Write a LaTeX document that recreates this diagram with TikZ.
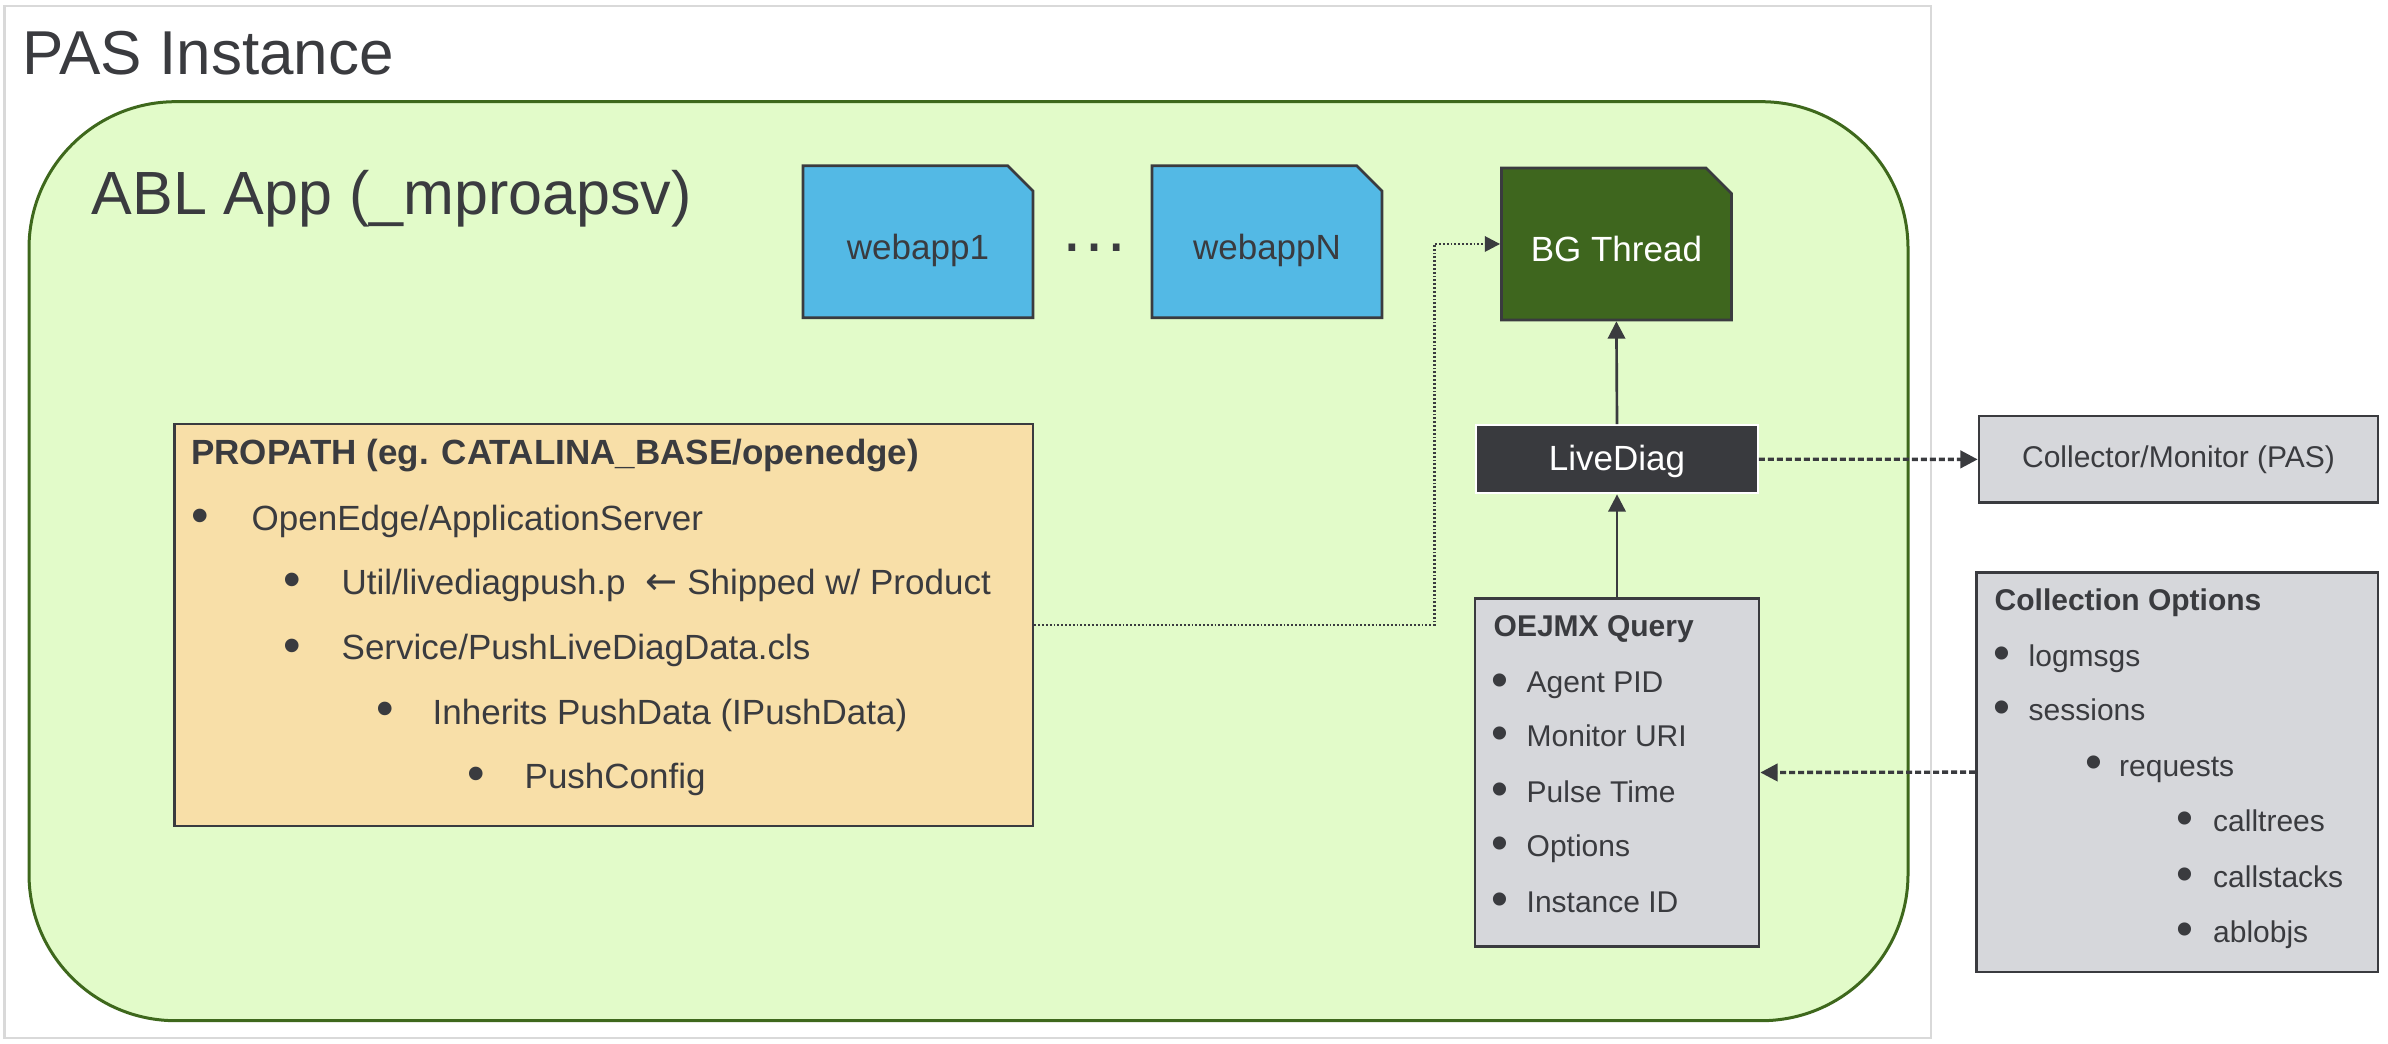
\documentclass[tikz,border=0pt]{standalone}
\usepackage{fontspec}
\setmainfont{Liberation Sans}
\newfontfamily\arrowfont{DejaVu Sans}
\usetikzlibrary{arrows.meta,shapes.misc}
\definecolor{inkgray}{RGB}{58,59,63}
\definecolor{pasline}{RGB}{217,217,217}
\definecolor{applime}{RGB}{226,251,201}
\definecolor{appline}{RGB}{62,104,28}
\definecolor{webblue}{RGB}{83,185,229}
\definecolor{bggreen}{RGB}{62,102,30}
\definecolor{diagdark}{RGB}{57,58,62}
\definecolor{querygray}{RGB}{214,215,219}
\definecolor{pathwheat}{RGB}{248,223,168}
\tikzset{
	txtbig/.style={inner sep=0pt, anchor=base west, text=inkgray, font=\fontsize{18.6}{22}\selectfont},
	txtmid/.style={inner sep=0pt, anchor=base west, text=inkgray, font=\fontsize{10.5}{13}\selectfont},
	txtsml/.style={inner sep=0pt, anchor=base west, text=inkgray, font=\fontsize{9}{11}\selectfont},
	headmid/.style={txtmid, font=\fontsize{10.5}{13}\selectfont\bfseries},
	headsml/.style={txtsml, font=\fontsize{9}{11}\selectfont\bfseries},
	bulmid/.style={txtmid, anchor=base, font=\fontsize{15}{17}\selectfont},
	bulsml/.style={txtsml, anchor=base, font=\fontsize{14.5}{17}\selectfont},
	docbox/.style={chamfered rectangle, chamfered rectangle corners=north east, chamfered rectangle xsep=3.8pt, chamfered rectangle ysep=3.8pt, draw=inkgray, line width=0.8pt, minimum width=69pt, minimum height=45.6pt, inner sep=0pt, text height=10.8pt, text depth=0pt, font=\fontsize{10.5}{13}\selectfont},
	listbox/.style={rectangle, draw=inkgray, line width=0.8pt, inner sep=0pt, fill=querygray},
	flowline/.style={draw=inkgray, line width=0.8pt, -{Triangle[length=5.2pt,width=5.2pt]}},
	dashline/.style={flowline, line width=1pt, dash pattern=on 1.8pt off 0.9pt},
	dotline/.style={draw=inkgray, line width=0.75pt, dash pattern=on 0.55pt off 0.6pt, -{Triangle[length=4.6pt,width=4.6pt]}}
}

\begin{document}
\begin{tikzpicture}[x=0.3pt,y=-0.3pt]
			%%%%% START %%%%%
			\useasboundingbox (0,0) rectangle (2388,1044);
			
			\draw[pasline, line width=0.8pt] (4.6,6) rectangle (1931,1038);
			\draw[draw=appline, fill=applime, line width=0.9pt, rounded corners=44pt] (29,101.7) rectangle (1908,1020.7);
			
			\node[txtbig] (pastitle) at (22,75) {PAS Instance};
			\node[txtbig, font=\fontsize{18.3}{22}\selectfont] (apptitle) at (91,215) {ABL App (\_mproapsv)};
			
			\node[docbox, fill=webblue, text=inkgray] (webone) at (918,241.7) {webapp1};
			\node[txtbig, anchor=base, font=\fontsize{21}{25}\selectfont] (dots) at (1094,252) {…};
			\node[docbox, fill=webblue, text=inkgray] (webn) at (1267,241.7) {webappN};
			\node[docbox, fill=bggreen, text=white] (bgthread) at (1616.4,244) {BG Thread};
			
			\node[rectangle, draw=white, line width=0.6pt, fill=diagdark, text=white, minimum width=84.5pt, minimum height=20.5pt, inner sep=0pt, text height=7.5pt, text depth=0.9pt, font=\fontsize{10.5}{13}\selectfont] (livediag) at (1617,459.2) {LiveDiag};
			\node[listbox, minimum width=119.7pt, minimum height=26pt, text height=6.3pt, text depth=1.2pt, text=inkgray, font=\fontsize{9}{11}\selectfont] (collector) at (2178.5,459.4) {Collector/Monitor (PAS)};
			
			% propath box
			\node[listbox, fill=pathwheat, minimum width=257.55pt, minimum height=120.6pt] (propath) at (603.75,625) {};
			\node[headmid] (pphead) at (190.5,465) {PROPATH (eg. CATALINA\_BASE/openedge)};
			\node[bulmid] (ppbulA) at (200.5,533) {•};
			\node[txtmid] (ppA) at (251,531) {OpenEdge/ApplicationServer};
			\node[bulmid] (ppbulB) at (292,597) {•};
			\node[txtmid] (ppB) at (341,595) {Util/livediagpush.p\hspace{3pt}\ {\arrowfont\fontsize{11.5}{13}\selectfont ←}\ Shipped w/ Product};
			\node[bulmid] (ppbulC) at (292,662) {•};
			\node[txtmid] (ppC) at (341,660) {Service/PushLiveDiagData.cls};
			\node[bulmid] (ppbulD) at (385,726) {•};
			\node[txtmid] (ppD) at (432,724) {Inherits PushData (IPushData)};
			\node[bulmid] (ppbulE) at (476,790) {•};
			\node[txtmid] (ppE) at (524,788) {PushConfig};
			
			% oejmx box
			\node[listbox, minimum width=85.2pt, minimum height=104.5pt] (oejmx) at (1617,772.5) {};
			\node[headsml] (oqhead) at (1493,637) {OEJMX Query};
			\node[bulsml] (oqbulA) at (1500,696) {•};
			\node[txtsml] (oqA) at (1526,693) {Agent PID};
			\node[bulsml] (oqbulB) at (1500,749.7) {•};
			\node[txtsml] (oqB) at (1526,746.7) {Monitor URI};
			\node[bulsml] (oqbulC) at (1500,805) {•};
			\node[txtsml] (oqC) at (1526,802) {Pulse Time};
			\node[bulsml] (oqbulD) at (1500,859) {•};
			\node[txtsml] (oqD) at (1526,856) {Options};
			\node[bulsml] (oqbulE) at (1500,915) {•};
			\node[txtsml] (oqE) at (1526,912) {Instance ID};
			
			% collection options box
			\node[listbox, minimum width=120.45pt, minimum height=119.9pt] (copts) at (2177.25,772.1) {};
			\node[headsml] (cohead) at (1994,611) {Collection Options};
			\node[bulsml] (cobulA) at (2001.5,669.5) {•};
			\node[txtsml] (coA) at (2028,666.5) {logmsgs};
			\node[bulsml] (cobulB) at (2001.5,723) {•};
			\node[txtsml] (coB) at (2028,720) {sessions};
			\node[bulsml] (cobulC) at (2094,779) {•};
			\node[txtsml] (coC) at (2118.5,776) {requests};
			\node[bulsml] (cobulD) at (2185,834) {•};
			\node[txtsml] (coD) at (2212.5,831) {calltrees};
			\node[bulsml] (cobulE) at (2185,890) {•};
			\node[txtsml] (coE) at (2212.5,887) {callstacks};
			\node[bulsml] (cobulF) at (2185,945) {•};
			\node[txtsml] (coF) at (2212.5,942) {ablobjs};
			
			% connectors
			\draw[flowline] (livediag.north) -- (bgthread.south);
			\draw[flowline] (oejmx.north) -- (livediag.south);
			\draw[dashline] (livediag.east) -- (collector.west);
			\draw[dashline] (copts.west) -- (oejmx.east);
			\coordinate (dotbend) at (1434.3,244);
			\draw[dotline] (propath.east) -| (dotbend) -- (bgthread.west);
			
			%%%%% END %%%%%
\end{tikzpicture}
\end{document}
